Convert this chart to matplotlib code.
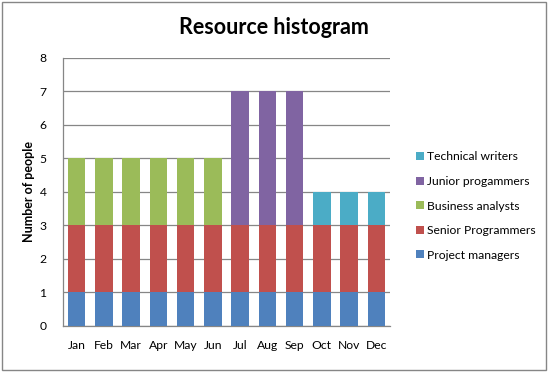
import matplotlib
matplotlib.use("Agg")
import matplotlib.pyplot as plt
import numpy as np
from matplotlib.patches import Rectangle

plt.rcParams['font.family'] = ['Lato', 'DejaVu Sans']

months = ["Jan", "Feb", "Mar", "Apr", "May", "Jun", "Jul", "Aug", "Sep", "Oct", "Nov", "Dec"]
project_managers = [1, 1, 1, 1, 1, 1, 1, 1, 1, 1, 1, 1]
senior_programmers = [2, 2, 2, 2, 2, 2, 2, 2, 2, 2, 2, 2]
business_analysts = [2, 2, 2, 2, 2, 2, 0, 0, 0, 0, 0, 0]
junior_progammers = [0, 0, 0, 0, 0, 0, 4, 4, 4, 0, 0, 0]
technical_writers = [0, 0, 0, 0, 0, 0, 0, 0, 0, 1, 1, 1]

series = [
    ("Project managers", project_managers, "#4F81BD"),
    ("Senior Programmers", senior_programmers, "#C0504D"),
    ("Business analysts", business_analysts, "#9BBB59"),
    ("Junior progammers", junior_progammers, "#8064A2"),
    ("Technical writers", technical_writers, "#4BACC6"),
]

W, H = 549, 376
fig = plt.figure(figsize=(W / 100, H / 100), dpi=100)
ax = fig.add_axes([63 / W, 1 - 326 / H, (390 - 63) / W, (326 - 57.5) / H])

x = np.arange(len(months))
bottom = np.zeros(len(months))
handles = []
for name, vals, col in series:
    v = np.array(vals, dtype=float)
    b = ax.bar(x, v, 0.64, bottom=bottom, color=col, label=name, zorder=3)
    bottom += v
    handles.append(b)

ax.set_xlim(-0.5, 11.5)
ax.set_ylim(0, 8)
ax.set_yticks(range(0, 9))
ax.set_xticks(x)
ax.set_xticklabels(months)
ax.tick_params(axis='both', length=0, labelsize=8.7, colors='black')
ax.tick_params(axis='x', pad=10)
ax.tick_params(axis='y', pad=12)
ax.yaxis.grid(True, color='#868686', linewidth=0.9, zorder=0)
ax.set_axisbelow(True)
for s in ['top', 'right']:
    ax.spines[s].set_visible(False)
for s in ['left', 'bottom']:
    ax.spines[s].set_color('#868686')
    ax.spines[s].set_linewidth(0.9)

ax.set_ylabel("Number of people", fontsize=9, fontweight='bold', labelpad=3)
fig.text(274 / W, 1 - 27 / H, "Resource histogram", fontsize=15.5, fontweight='bold',
         ha='center', va='center')

leg = ax.legend(handles[::-1], [s[0] for s in series][::-1], loc='center left',
                bbox_to_anchor=(405 / W, 1 - 206 / H), bbox_transform=fig.transFigure,
                frameon=False, fontsize=8.7, handlelength=0.65, handleheight=0.65,
                handletextpad=0.3, labelspacing=1.12)

fig.patches.append(Rectangle((2 / W, 1 - 370 / H), 544 / W, 368 / H, transform=fig.transFigure,
                             fill=False, edgecolor='#868686', linewidth=1))

fig.savefig("out.png", dpi=100)
